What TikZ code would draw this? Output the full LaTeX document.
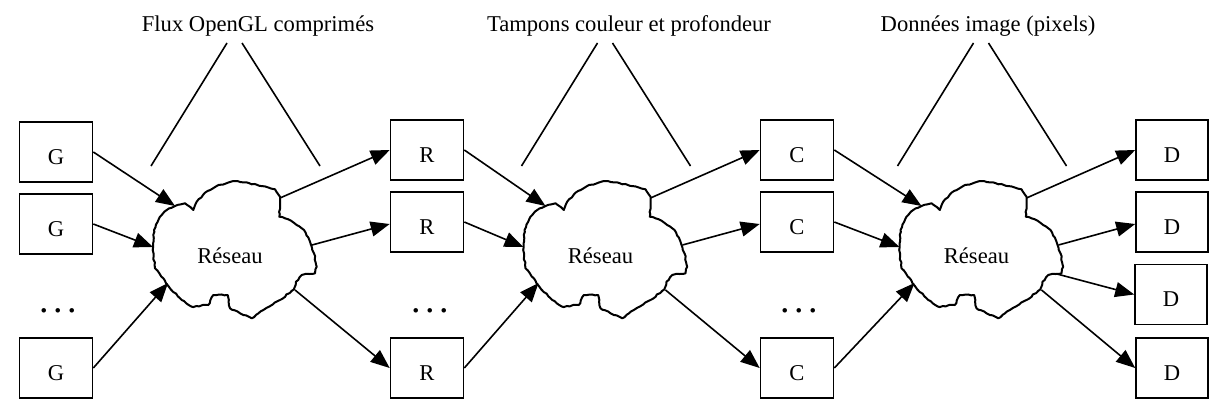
\documentclass[tikz,border=0pt]{standalone}
\usepackage{fontspec}
\setmainfont{Liberation Serif}
\usetikzlibrary{arrows.meta,decorations.pathmorphing,calc}

\tikzset{
  txt/.style={font=\fontsize{22.6}{27}\selectfont},
  box/.style={draw, line width=1.6pt, minimum width=73pt, minimum height=60pt,
    inner sep=0pt, text height=24pt, text depth=0pt, txt},
  caption/.style={txt, inner sep=0pt, anchor=base},
  dots/.style={font=\fontsize{38}{42}\selectfont, inner sep=0pt, anchor=base},
  link/.style={line width=1.6pt, -{Triangle[length=19pt,width=15pt]}},
  stem/.style={line width=1.6pt},
  % irregular "network" cloud, centred on the pic origin
  reseau/.pic={
    \pgfmathsetseed{4242}
    \draw[line width=2pt, line join=round, fill=white, decorate,
          decoration={random steps, segment length=3pt, amplitude=0.6pt}]
      (-60,-44) -- (-50,-46.7) -- (-44.3,-42.7) -- (-41.7,-40) -- (-38.3,-48.3)
      -- (-30,-57.3) -- (-18.3,-64) -- (-5,-68) -- (2.3,-69) -- (21.7,-65.3)
      -- (40,-60.7) -- (45,-53.3) -- (44.3,-33.3) -- (53.3,-30.7) -- (61.7,-25)
      -- (69,-20) -- (75,-8.3) -- (79,3.3) -- (81.7,16.7) -- (80,23.3)
      -- (66.7,25) -- (61,31.7) -- (59,39.3) -- (45,50) -- (28.3,60)
      -- (16.7,68.3) -- (5,63.3) -- (-5,58.3) -- (-7.3,45) -- (-21.7,45)
      -- (-26.7,55) -- (-43.3,56.7) -- (-53.3,50) -- (-65,38.3) -- (-71.7,28.3)
      -- (-80,18.3) -- (-82.3,0) -- (-81,-20) -- (-75,-33.3) -- (-68.3,-40)
      -- cycle;
    \node[caption] (-label) at (-5,13) {Réseau};
    \coordinate (-in1) at (-60,-44);
    \coordinate (-in2) at (-82,-3);
    \coordinate (-in3) at (-67,33);
    \coordinate (-out1) at (45,-52);
    \coordinate (-out2) at (77,-5);
    \coordinate (-out3) at (75.5,24);
    \coordinate (-out4) at (60,40);
    \coordinate (-vla) at (-8,-207);
    \coordinate (-vlb) at (-84,-84);
    \coordinate (-vra) at (7,-207);
    \coordinate (-vrb) at (85,-84);
  }
}

\begin{document}
\begin{tikzpicture}[x=1pt,y=-1pt]
\useasboundingbox (0,0) rectangle (1209,412);

% the three networks
\pic (n1) at (235,250) {reseau};
\pic (n2) at (605.5,250) {reseau};
\pic (n3) at (981.5,250) {reseau};

% captions above each network
\node[caption] (cap1) at (258,32) {Flux OpenGL comprimés};
\node[caption] (cap2) at (629,32) {Tampons couleur et profondeur};
\node[caption] (cap3) at (988,32) {Données image (pixels)};

\foreach \n in {n1,n2,n3}{
  \draw[stem] (\n-vla) -- (\n-vlb);
  \draw[stem] (\n-vra) -- (\n-vrb);
}

% geometry nodes
\node[box] (g1) at (56,152) {G};
\node[box] (g2) at (56,224) {G};
\node[box] (g3) at (56,368) {G};
\node[dots] (gd) at (58,312) {.\hspace{4.5pt}.\hspace{4.5pt}.};

% rendering nodes
\node[box] (r1) at (427,150) {R};
\node[box] (r2) at (427,222) {R};
\node[box] (r3) at (427,368) {R};
\node[dots] (rd) at (430,312) {.\hspace{4.5pt}.\hspace{4.5pt}.};

% compositing nodes
\node[box] (c1) at (797,150) {C};
\node[box] (c2) at (797,222) {C};
\node[box] (c3) at (797,368) {C};
\node[dots] (cd) at (799,312) {.\hspace{4.5pt}.\hspace{4.5pt}.};

% display nodes
\node[box, minimum width=72pt] (d1) at (1172,150) {D};
\node[box, minimum width=72pt] (d2) at (1172,222) {D};
\node[box, minimum width=72pt] (d3) at (1171,294.5) {D};
\node[box, minimum width=72pt] (d4) at (1172,368) {D};

% G -> network -> R
\draw[link] (g1.east) -- (n1-in1);
\draw[link] (g2.east) -- (n1-in2);
\draw[link] (g3.east) -- (n1-in3);
\draw[link] (n1-out1) -- (r1.west);
\draw[link] (n1-out2) -- ($(r2.west)+(0,2)$);
\draw[link] (n1-out4) -- (r3.west);

% R -> network -> C
\draw[link] (r1.east) -- (n2-in1);
\draw[link] (r2.east) -- (n2-in2);
\draw[link] (r3.east) -- (n2-in3);
\draw[link] (n2-out1) -- (c1.west);
\draw[link] (n2-out2) -- ($(c2.west)+(0,2)$);
\draw[link] (n2-out4) -- (c3.west);

% C -> network -> D
\draw[link] (c1.east) -- (n3-in1);
\draw[link] (c2.east) -- (n3-in2);
\draw[link] (c3.east) -- (n3-in3);
\draw[link] (n3-out1) -- (d1.west);
\draw[link] (n3-out2) -- ($(d2.west)+(0,2)$);
\draw[link] (n3-out3) -- (d3.west);
\draw[link] (n3-out4) -- (d4.west);
\end{tikzpicture}
\end{document}
